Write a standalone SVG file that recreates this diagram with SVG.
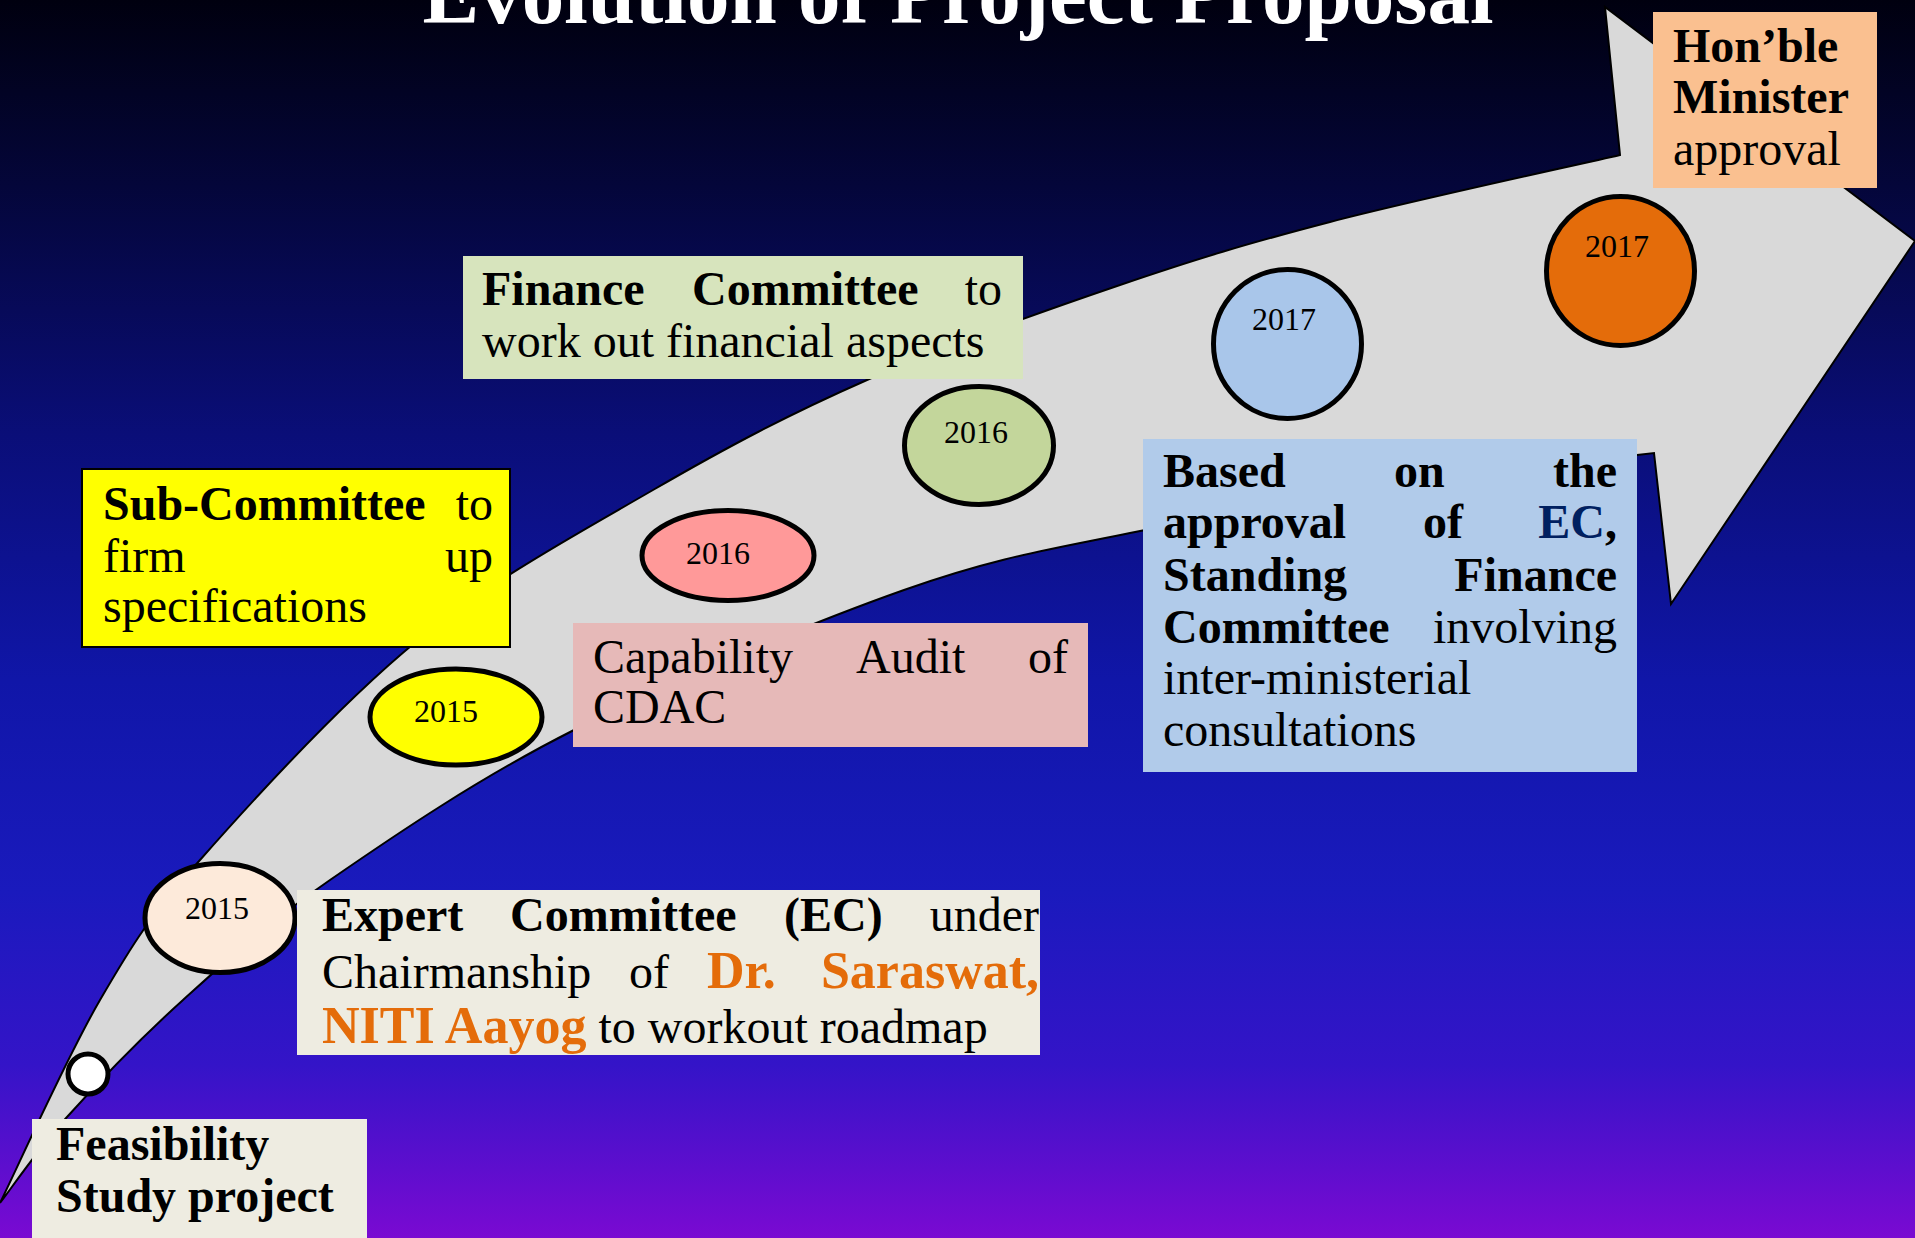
<svg xmlns="http://www.w3.org/2000/svg" width="1915" height="1238" viewBox="0 0 1915 1238">
  <defs>
    <linearGradient id="bg" x1="0" y1="0" x2="0" y2="1">
      <stop offset="0" stop-color="#00000f"/>
      <stop offset="0.15" stop-color="#04063a"/>
      <stop offset="0.35" stop-color="#0a0e78"/>
      <stop offset="0.55" stop-color="#1016a8"/>
      <stop offset="0.72" stop-color="#1a1abd"/>
      <stop offset="0.86" stop-color="#3414c8"/>
      <stop offset="1" stop-color="#7a0ad2"/>
    </linearGradient>
    <style>
      .t { font-family: "Liberation Serif", "Times New Roman", serif; font-size: 48px; fill: #000; }
      .b { font-weight: bold; }
      .end { text-anchor: end; }
      .or { fill: #E46C0A; font-size: 52px; font-weight: bold; }
      .navy { fill: #002060; }
      .yr { font-family: "Liberation Serif", "Times New Roman", serif; font-size: 32px; fill: #000; text-anchor: middle; }
      .ell { stroke: #000; stroke-width: 5; }
      .title { font-family: "Liberation Serif", "Times New Roman", serif; font-size: 85px; font-weight: bold; fill: #fff; text-anchor: middle; }
    </style>
  </defs>

  <!-- background -->
  <rect x="0" y="0" width="1915" height="1238" fill="url(#bg)"/>

  <!-- heading -->
  <text class="title" x="958" y="23">Evolution of Project Proposal</text>

  <!-- curved timeline arrow -->
  <g id="connectors">
    <path id="timeline-arrow" fill="#D9D9D9" stroke="#000" stroke-width="2" stroke-linejoin="miter"
      d="M0,1203 C16.7,1169.2 66.7,1057.2 100,1000 C133.3,942.8 147.2,919.8 200,860 C252.8,800.2 341.5,702.7 417,641 C492.5,579.3 578,533.5 653,490 C728,446.5 789.2,414.2 867,380 C944.8,345.8 1042.8,311.3 1120,285 C1197.2,258.7 1246.7,243.7 1330,222 C1413.3,200.3 1571.7,166.2 1620,155 L1605,7 L1915,241 L1671,604 L1654,453 L1637,455 C1594.2,461.2 1464.5,479 1380,492 C1295.5,505 1209.3,516.7 1130,533 C1050.7,549.3 996.7,557.2 904,590 C811.3,622.8 669.7,681.7 574,730 C478.3,778.3 395.2,835 330,880 C264.8,925 226.8,960.5 183,1000 C139.2,1039.5 97.5,1083.2 67,1117 C36.5,1150.8 11.2,1188.7 0,1203 Z"/>
  </g>

  <!-- milestones on the arrow -->
  <g id="start-point">
    <circle class="ell" cx="88" cy="1074" r="20" fill="#fff"/>
  </g>
  <g id="m2015-expert">
    <ellipse class="ell" cx="220" cy="918" rx="75" ry="54.5" fill="#FDEADA"/>
    <text class="yr" x="217" y="919">2015</text>
  </g>
  <g id="m2015-sub">
    <ellipse class="ell" cx="456" cy="717" rx="86" ry="48" fill="#FFFF00"/>
    <text class="yr" x="446" y="722">2015</text>
  </g>
  <g id="m2016-audit">
    <ellipse class="ell" cx="728" cy="555.5" rx="86" ry="45" fill="#FF9999"/>
    <text class="yr" x="718" y="564">2016</text>
  </g>
  <g id="m2016-finance">
    <ellipse class="ell" cx="979" cy="445.5" rx="74.5" ry="59" fill="#C3D69B"/>
    <text class="yr" x="976" y="443">2016</text>
  </g>
  <g id="m2017-sfc">
    <ellipse class="ell" cx="1287.5" cy="344" rx="74" ry="74.5" fill="#A9C6EA"/>
    <text class="yr" x="1284" y="330">2017</text>
  </g>
  <g id="m2017-minister">
    <ellipse class="ell" cx="1620.5" cy="271" rx="74" ry="74.5" fill="#E46C0A"/>
    <text class="yr" x="1617" y="257">2017</text>
  </g>

  <!-- description boxes -->
  <g id="box-feasibility">
    <rect x="32" y="1119" width="335" height="125" fill="#EEECE1"/>
    <text class="t b" x="56" y="1160">Feasibility</text>
    <text class="t b" x="56" y="1212">Study project</text>
  </g>

  <g id="box-expert">
    <rect x="297" y="890" width="743" height="165" fill="#EEECE1"/>
    <text class="t b" x="322" y="931">Expert</text>
    <text class="t b" x="510" y="931">Committee</text>
    <text class="t b" x="784" y="931">(EC)</text>
    <text class="t end" x="1039" y="931">under</text>
    <text class="t" x="322" y="988">Chairmanship</text>
    <text class="t" x="629" y="988">of</text>
    <text class="t or" x="707" y="988">Dr.</text>
    <text class="t or end" x="1039" y="988">Saraswat,</text>
    <text class="t" x="322" y="1043"><tspan class="or">NITI Aayog</tspan> to workout roadmap</text>
  </g>

  <g id="box-subcommittee">
    <rect x="82" y="469" width="428" height="178" fill="#FFFF00" stroke="#000" stroke-width="2"/>
    <text class="t b" x="103" y="520">Sub-Committee</text>
    <text class="t end" x="493" y="520">to</text>
    <text class="t" x="103" y="572">firm</text>
    <text class="t end" x="493" y="572">up</text>
    <text class="t" x="103" y="622">specifications</text>
  </g>

  <g id="box-audit">
    <rect x="573" y="623" width="515" height="124" fill="#E6B9B8"/>
    <text class="t" x="593" y="673">Capability</text>
    <text class="t" x="856" y="673">Audit</text>
    <text class="t end" x="1068" y="673">of</text>
    <text class="t" x="593" y="723">CDAC</text>
  </g>

  <g id="box-finance">
    <rect x="463" y="256" width="560" height="123" fill="#D7E4BD"/>
    <text class="t b" x="482" y="305">Finance</text>
    <text class="t b" x="692" y="305">Committee</text>
    <text class="t end" x="1002" y="305">to</text>
    <text class="t" x="482" y="357">work out financial aspects</text>
  </g>

  <g id="box-sfc">
    <rect x="1143" y="439" width="494" height="333" fill="#B1CBEA"/>
    <text class="t b" x="1163" y="487">Based</text>
    <text class="t b" x="1394" y="487">on</text>
    <text class="t b end" x="1617" y="487">the</text>
    <text class="t b" x="1163" y="538">approval</text>
    <text class="t b" x="1423" y="538">of</text>
    <text class="t b end" x="1617" y="538"><tspan class="navy">EC</tspan>,</text>
    <text class="t b" x="1163" y="591">Standing</text>
    <text class="t b end" x="1617" y="591">Finance</text>
    <text class="t b" x="1163" y="643">Committee</text>
    <text class="t end" x="1617" y="643">involving</text>
    <text class="t" x="1163" y="694">inter-ministerial</text>
    <text class="t" x="1163" y="746">consultations</text>
  </g>

  <g id="box-minister">
    <rect x="1653" y="12" width="224" height="176" fill="#FAC090"/>
    <text class="t b" x="1673" y="62">Hon’ble</text>
    <text class="t b" x="1673" y="113">Minister</text>
    <text class="t" x="1673" y="165">approval</text>
  </g>
</svg>
